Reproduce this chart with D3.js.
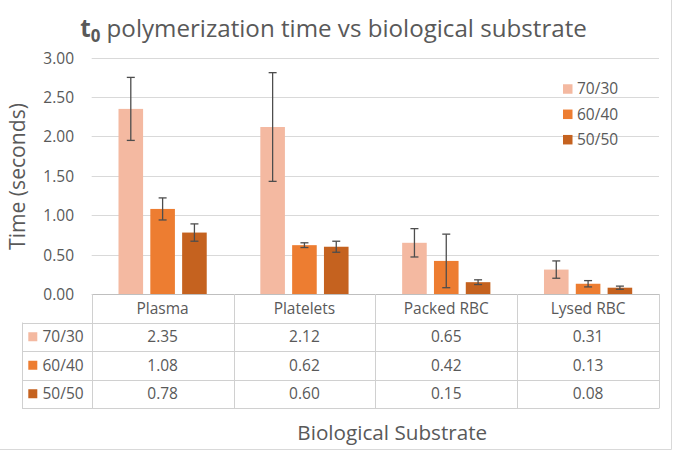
<!DOCTYPE html>
<html>
<head>
<meta charset="utf-8">
<script src="https://cdn.jsdelivr.net/npm/d3@7"></script>
<style>
  html, body { margin: 0; padding: 0; background: #fff; }
  svg { display: block; font-family: "Open Sans", sans-serif; }
</style>
</head>
<body>
<svg id="chart" width="680" height="452"></svg>
<script>
// ---- data ----
const categories = ["Plasma", "Platelets", "Packed RBC", "Lysed RBC"];
const seriesNames = ["70/30", "60/40", "50/50"];
const values7030 = [2.35, 2.12, 0.65, 0.31];
const values6040 = [1.08, 0.62, 0.42, 0.13];
const values5050 = [0.78, 0.60, 0.15, 0.08];
const errors7030 = [0.40, 0.69, 0.18, 0.11];
const errors6040 = [0.14, 0.03, 0.34, 0.04];
const errors5050 = [0.11, 0.07, 0.03, 0.02];
const yTicks = [0, 0.5, 1.0, 1.5, 2.0, 2.5, 3.0];
const colors = ["#F4B9A1", "#ED7D31", "#C5621F"];

const seriesValues = [values7030, values6040, values5050];
const seriesErrors = [errors7030, errors6040, errors5050];

const svg = d3.select("#chart");
const textColor = "#595959";
const gridColor = "#D9D9D9";
const tableColor = "#D0D0D0";

function fitText(sel, targetWidth) {
  const node = sel.node();
  const base = 20;
  sel.attr("font-size", base);
  const w = node.getComputedTextLength();
  sel.attr("font-size", base * targetWidth / w);
}

// chart area border (right and bottom visible)
svg.append("line").attr("x1", 671.5).attr("x2", 671.5).attr("y1", 0).attr("y2", 449.5)
  .attr("stroke", gridColor).attr("stroke-width", 1);
svg.append("line").attr("x1", 0).attr("x2", 671.5).attr("y1", 449.5).attr("y2", 449.5)
  .attr("stroke", gridColor).attr("stroke-width", 1);

// ---- scales ----
const plotLeft = 91.7, plotRight = 659, plotTop = 57.7, plotBottom = 294;
const x = d3.scaleBand().domain(categories).range([plotLeft, plotRight]).paddingInner(0).paddingOuter(0);
const bw = x.bandwidth();
const xs = d3.scaleBand().domain(seriesNames).range([26.8, bw - 26.8]).paddingInner(0.227).paddingOuter(0);
const y = d3.scaleLinear().domain([0, 3]).range([plotBottom, plotTop]);

// gridlines
svg.append("g").selectAll("line").data(yTicks.filter(d => d > 0)).join("line")
  .attr("x1", plotLeft).attr("x2", plotRight)
  .attr("y1", d => Math.round(y(d)) + 0.5).attr("y2", d => Math.round(y(d)) + 0.5)
  .attr("stroke", gridColor).attr("stroke-width", 1);

// y axis tick labels
const yAxis = d3.axisLeft(y).tickValues(yTicks).tickFormat(d3.format(".2f")).tickSize(0).tickPadding(0);
const yg = svg.append("g").attr("transform", `translate(74,0)`).call(yAxis);
yg.select(".domain").remove();
yg.selectAll("text").attr("fill", textColor).attr("font-size", 15.5)
  .attr("font-family", "Open Sans, sans-serif").attr("dy", "0.35em");

// bars
seriesNames.forEach((s, si) => {
  const g = svg.append("g");
  g.selectAll("rect").data(categories).join("rect")
    .attr("x", c => x(c) + xs(s))
    .attr("width", xs.bandwidth())
    .attr("y", (c, i) => y(seriesValues[si][i]))
    .attr("height", (c, i) => y(0) - y(seriesValues[si][i]))
    .attr("fill", colors[si]);
});

// error bars
seriesNames.forEach((s, si) => {
  const g = svg.append("g").attr("stroke", "#4D4D4D").attr("stroke-width", 1.3).attr("fill", "none");
  categories.forEach((c, i) => {
    const cx = x(c) + xs(s) + xs.bandwidth() / 2;
    const v = seriesValues[si][i], e = seriesErrors[si][i];
    const yt = y(v + e), yb = y(v - e);
    g.append("line").attr("x1", cx).attr("x2", cx).attr("y1", yt).attr("y2", yb);
    g.append("line").attr("x1", cx - 4).attr("x2", cx + 4).attr("y1", yt).attr("y2", yt);
    g.append("line").attr("x1", cx - 4).attr("x2", cx + 4).attr("y1", yb).attr("y2", yb);
  });
});

// legend
const legendY = [89, 114.3, 139.7];
seriesNames.forEach((s, si) => {
  svg.append("rect").attr("x", 563).attr("y", legendY[si] - 4.75).attr("width", 9.5).attr("height", 9.5)
    .attr("fill", colors[si]);
  svg.append("text").attr("x", 577).attr("y", legendY[si]).attr("dy", "0.35em")
    .attr("font-size", 15.5).attr("fill", textColor).text(s);
});

// ---- data table ----
const tableLeft = 22;
const rowEdges = [294, 322.5, 351, 379.5, 408];
const tg = svg.append("g").attr("stroke", tableColor).attr("stroke-width", 1);
// axis line / header top
tg.append("line").attr("x1", plotLeft).attr("x2", plotRight).attr("y1", 294.5).attr("y2", 294.5).attr("stroke", "#BFBFBF");
rowEdges.slice(1).forEach(ry => {
  tg.append("line").attr("x1", tableLeft).attr("x2", plotRight).attr("y1", Math.round(ry) + 0.5).attr("y2", Math.round(ry) + 0.5);
});
tg.append("line").attr("x1", tableLeft + 0.5).attr("x2", tableLeft + 0.5).attr("y1", 322.5).attr("y2", 408.5);
const vEdges = categories.map(c => x(c)).concat([plotRight]);
vEdges.forEach(vx => {
  tg.append("line").attr("x1", Math.round(vx) + 0.5).attr("x2", Math.round(vx) + 0.5).attr("y1", 294).attr("y2", 408.5);
});

// header labels
svg.append("g").selectAll("text").data(categories).join("text")
  .attr("x", c => x(c) + bw / 2).attr("y", (rowEdges[0] + rowEdges[1]) / 2).attr("dy", "0.35em")
  .attr("text-anchor", "middle").attr("font-size", 15.5).attr("fill", textColor).text(c => c);

// rows
seriesNames.forEach((s, si) => {
  const cy = (rowEdges[si + 1] + rowEdges[si + 2]) / 2;
  svg.append("rect").attr("x", 28.3).attr("y", cy - 4.5).attr("width", 9).attr("height", 9).attr("fill", colors[si]);
  svg.append("text").attr("x", 42.5).attr("y", cy).attr("dy", "0.35em")
    .attr("font-size", 15.5).attr("fill", textColor).text(s);
  svg.append("g").selectAll("text").data(categories).join("text")
    .attr("x", c => x(c) + bw / 2).attr("y", cy).attr("dy", "0.35em")
    .attr("text-anchor", "middle").attr("font-size", 15.5).attr("fill", textColor)
    .text((c, i) => d3.format(".2f")(seriesValues[si][i]));
});

// title
const title = svg.append("text").attr("x", 333.5).attr("y", 37).attr("text-anchor", "middle").attr("fill", textColor);
title.append("tspan").attr("font-weight", "bold").text("t");
title.append("tspan").attr("font-weight", "bold").attr("font-size", "0.7em").attr("dy", "0.3em").text("0");
title.append("tspan").attr("dy", "-0.21em").text(" polymerization time vs biological substrate");
fitText(title, 507);

// axis titles
const yTitle = svg.append("text").attr("transform", "translate(25,176.5) rotate(-90)")
  .attr("text-anchor", "middle").attr("fill", textColor).text("Time (seconds)");
fitText(yTitle, 147);

const xTitle = svg.append("text").attr("x", 392.3).attr("y", 440).attr("text-anchor", "middle")
  .attr("fill", textColor).text("Biological Substrate");
fitText(xTitle, 190);
</script>
</body>
</html>
